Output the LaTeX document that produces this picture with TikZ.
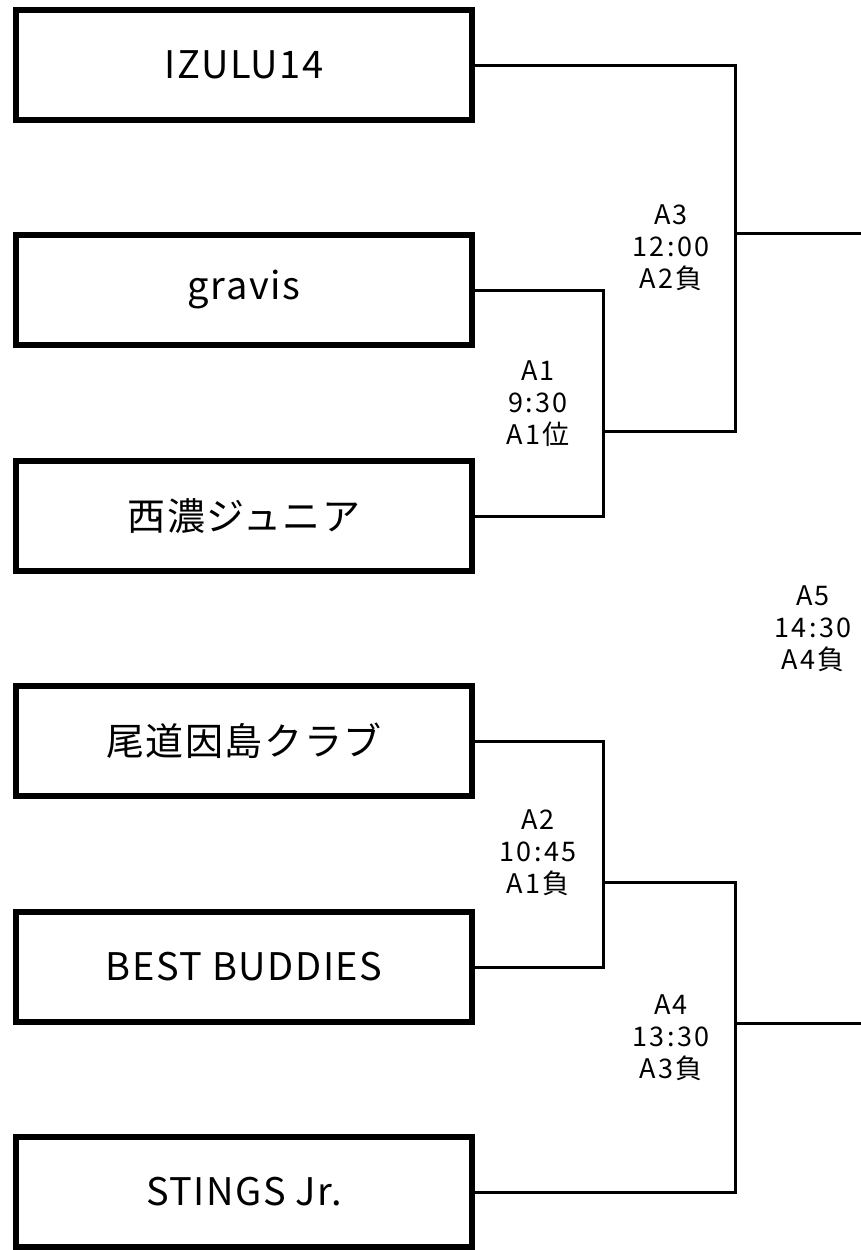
\documentclass[tikz,border=0pt]{standalone}
\usepackage{fontspec}
\setmainfont{Noto Sans CJK JP}
\newfontfamily\teamfont[LetterSpace=4]{Noto Sans CJK JP}
\newfontfamily\labfont[LetterSpace=9]{Noto Sans CJK JP}
\begin{document}
\begin{tikzpicture}[x=1pt,y=-1pt,
  team/.style={draw=black,line width=6pt,minimum width=456pt,minimum height=110pt,inner sep=0pt,font=\teamfont\fontsize{38}{42}\selectfont},
  conn/.style={draw=black,line width=3pt},
  match/.style={align=center,inner sep=0pt,font=\labfont\fontsize{27}{32}\selectfont}]
\useasboundingbox (0,0) rectangle (861,1250);
\node[team] (b1) at (244,65) {IZULU14};
\node[team] (b2) at (244,290) {gravis};
\node[team] (b3) at (244,516) {西濃ジュニア};
\node[team] (b4) at (244,741) {尾道因島クラブ};
\node[team] (b5) at (244,967) {BEST BUDDIES};
\node[team] (b6) at (244,1192) {STINGS Jr.};
\coordinate (a1) at (603,431);
\coordinate (a3) at (735,233);
\coordinate (a3out) at (861,233);
\coordinate (a2) at (603,882);
\coordinate (a4) at (735,1023);
\coordinate (a4out) at (861,1023);
\draw[conn] (b2.east) -| (a1) |- (b3.east);
\draw[conn] (b1.east) -| (a3) |- (a1);
\draw[conn] (a3) -- (a3out);
\draw[conn] (b4.east) -| (a2) |- (b5.east);
\draw[conn] (a2) -| (a4) |- (b6.east);
\draw[conn] (a4) -- (a4out);
\node[match] (m1) at (538,404) {A1\\9:30\\A1位};
\node[match] (m3) at (671,248) {A3\\12:00\\A2負};
\node[match] (m5) at (813,629) {A5\\14:30\\A4負};
\node[match] (m2) at (538,853) {A2\\10:45\\A1負};
\node[match] (m4) at (671,1038) {A4\\13:30\\A3負};
\end{tikzpicture}
\end{document}
